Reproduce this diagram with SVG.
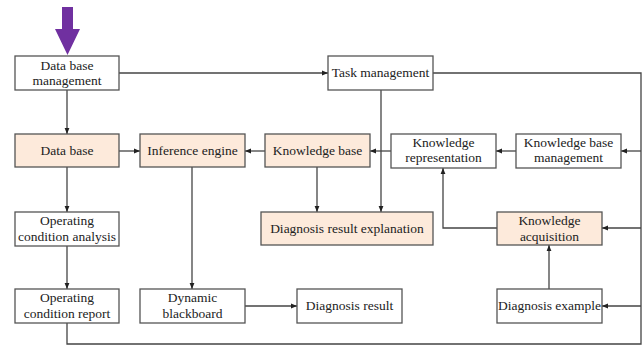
<svg xmlns="http://www.w3.org/2000/svg" width="643" height="346" viewBox="0 0 643 346" font-family="'Liberation Serif', 'Times New Roman', 'DejaVu Serif', serif">
<style>
.b{fill:#fff;stroke:#555;stroke-width:1.3}
.o{fill:#fdeadb;stroke:#555;stroke-width:1.3}
text{font-family:'Liberation Serif','Times New Roman','DejaVu Serif',serif;font-size:13.5px;fill:#222;text-anchor:middle}
.c path{fill:none;stroke:#444;stroke-width:1.3}
</style>
<defs>
<marker id="a" viewBox="0 0 10 10" refX="10" refY="5" markerWidth="6" markerHeight="6" markerUnits="userSpaceOnUse" orient="auto">
<path d="M0,1 L10,5 L0,9 z" fill="#222"/>
</marker>
</defs>
<path d="M62,7 H73 V29 H80 L67.5,55 L55,29 H62 Z" fill="#7030a0"/>
<g class="c">
<path d="M119,73 H328" marker-end="url(#a)"/>
<path d="M433,73 H641 V344 H67 V323"/>
<path d="M67,90 V134" marker-end="url(#a)"/>
<path d="M119,151 H140" marker-end="url(#a)"/>
<path d="M265,151 H245" marker-end="url(#a)"/>
<path d="M391,151 H370" marker-end="url(#a)"/>
<path d="M516,151 H496" marker-end="url(#a)"/>
<path d="M641,151 H621" marker-end="url(#a)"/>
<path d="M641,228 H602" marker-end="url(#a)"/>
<path d="M641,306 H602" marker-end="url(#a)"/>
<path d="M381,90 V212" marker-end="url(#a)"/>
<path d="M317,167 V212" marker-end="url(#a)"/>
<path d="M192,167 V289" marker-end="url(#a)"/>
<path d="M67,167 V212" marker-end="url(#a)"/>
<path d="M67,246 V289" marker-end="url(#a)"/>
<path d="M245,306 H297" marker-end="url(#a)"/>
<path d="M497,228 H443 V168" marker-end="url(#a)"/>
<path d="M549,289 V245" marker-end="url(#a)"/>
</g>
<g id="dbm"><rect class="b" x="15" y="56" width="104" height="34"/><text x="67" y="70">Data base</text><text x="67" y="85">management</text></g>
<g id="task"><rect class="b" x="328" y="56" width="105" height="34"/><text x="380.5" y="77">Task management</text></g>
<g id="db"><rect class="o" x="15" y="134" width="104" height="33"/><text x="67" y="155">Data base</text></g>
<g id="ie"><rect class="o" x="140" y="134" width="105" height="33"/><text x="192.5" y="155">Inference engine</text></g>
<g id="kb"><rect class="o" x="265" y="134" width="105" height="33"/><text x="317.5" y="155">Knowledge base</text></g>
<g id="kr"><rect class="b" x="391" y="134" width="105" height="34"/><text x="443.5" y="147">Knowledge</text><text x="443.5" y="162">representation</text></g>
<g id="kbm"><rect class="b" x="516" y="134" width="105" height="34"/><text x="568.5" y="147">Knowledge base</text><text x="568.5" y="162">management</text></g>
<g id="oca"><rect class="b" x="15" y="212" width="104" height="34"/><text x="67" y="225">Operating</text><text x="67" y="241">condition analysis</text></g>
<g id="dre"><rect class="o" x="261" y="212" width="172" height="33"/><text x="347" y="233">Diagnosis result explanation</text></g>
<g id="ka"><rect class="o" x="497" y="212" width="105" height="33"/><text x="549.5" y="225">Knowledge</text><text x="549.5" y="241">acquisition</text></g>
<g id="ocr"><rect class="b" x="15" y="289" width="104" height="34"/><text x="67" y="302">Operating</text><text x="67" y="318">condition report</text></g>
<g id="dbb"><rect class="b" x="140" y="289" width="105" height="34"/><text x="192.5" y="302">Dynamic</text><text x="192.5" y="318">blackboard</text></g>
<g id="dr"><rect class="b" x="297" y="289" width="105" height="34"/><text x="349.5" y="310">Diagnosis result</text></g>
<g id="de"><rect class="b" x="497" y="289" width="105" height="34"/><text x="549.5" y="310">Diagnosis example</text></g>
</svg>
